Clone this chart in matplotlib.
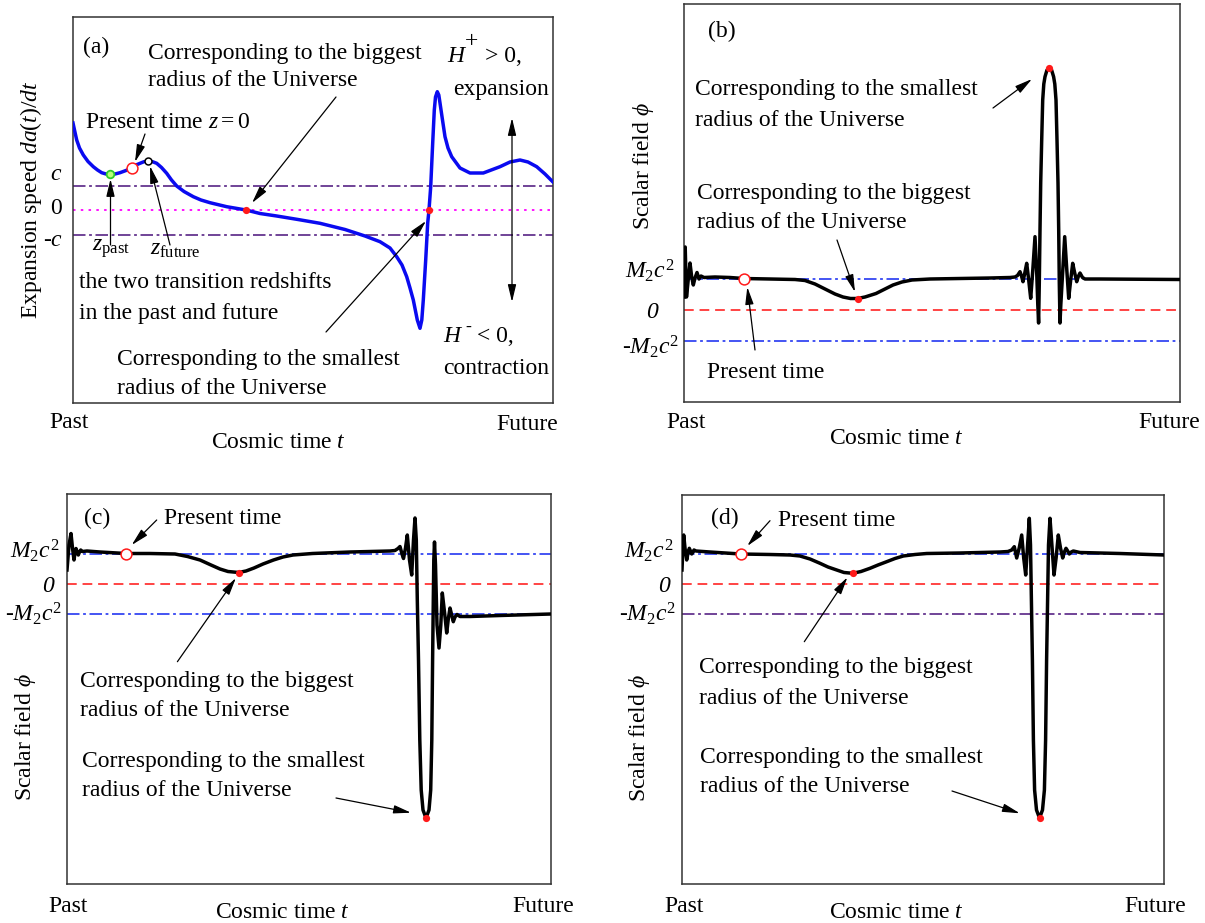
import matplotlib
matplotlib.use("Agg")
import matplotlib.pyplot as plt
from matplotlib.transforms import Affine2D

plt.rcParams['font.family'] = ['Liberation Serif', 'DejaVu Serif']
plt.rcParams['mathtext.fontset'] = 'custom'
plt.rcParams['mathtext.rm'] = 'Liberation Serif'
plt.rcParams['mathtext.it'] = 'Liberation Serif:italic'
plt.rcParams['mathtext.bf'] = 'Liberation Serif:bold'
plt.rcParams['lines.scale_dashes'] = False

# Panel (a): expansion speed da/dt versus cosmic time (c level ~ 24.5 units)
A_T = [0, 1.5, 3.7, 6.5, 10.3, 15, 20.3, 24.5, 28.7, 33, 37, 42, 47, 53, 58.7, 63, 67, 71,
       75.3, 79.5, 83.7, 88.5, 93.7, 98.5, 103.7, 111, 120.3, 128, 137, 153.7, 173, 187,
       203.7, 225, 247, 272, 292, 307, 317, 323.7, 329, 333.7, 337, 340.3, 344.3, 347,
       348.8, 350.3, 352.7, 354.7, 356, 357.7, 359.7, 361.3, 362.5, 364.3, 365.8, 367,
       369.5, 372, 375, 378.7, 387, 397, 410.3, 427, 437, 447, 455, 463.7, 472, 479.7]
A_V = [87, 80, 70, 62, 55, 48.5, 43.3, 40, 37.3, 36, 35.7, 36, 37.3, 39.5, 42.3, 45, 46.7,
       48.3, 49, 48.3, 46.7, 42.5, 36.7, 30, 24, 18.5, 13.3, 10, 7.3, 3.3, 0, -3.5, -6,
       -9.5, -13.3, -19.5, -26, -31.7, -38, -46.7, -55, -66.7, -78, -90, -110, -118.3,
       -110, -90, -50, -13, 0, 23.3, 67, 100, 113, 118.3, 115, 107, 90, 73.3, 62, 53.3,
       42, 37, 37, 43.3, 48, 50, 48, 43.3, 36, 28.3]
A_C = 24.5
A_ZPAST = (37, 35.7)
A_PRESENT = (58.7, 42.3)
A_ZFUTURE = (75.3, 49)
A_ROOTS_T = [173, 356]
A_ROOTS_V = [0, 0]

# Panel (b): scalar field, main peak upward (M2c^2 level ~ 31 units)
B_T = [0, 1.2, 2.5, 4.2, 6, 7.7, 9.3, 11, 13, 15, 17, 20, 31, 46, 59.5, 86, 111, 121, 131,
       142, 151, 159, 166.5, 173.5, 181, 192, 201, 209, 218, 228, 246, 276, 306, 326, 331,
       333.5, 336, 337.5, 339, 341, 342.7, 344.7, 346.7, 348.8, 351, 352.8, 353.8, 354.6,
       355.3, 356, 356.7, 357.7, 358.7, 359.8, 361, 363, 365.3, 367.6, 369.6, 370.8, 372,
       373, 374, 374.7, 375.3, 376, 376.8, 378.5, 380.7, 382.8, 384.7, 386.7, 388.7,
       390.5, 392.7, 394.5, 396, 398.5, 401, 416, 496]
B_V = [13, 63, 13, 30, 47, 33, 25, 32, 37.5, 31, 34, 32.5, 33, 32.5, 31.5, 31, 30.5, 29.5,
       26, 20.5, 16, 13, 11.5, 11.5, 13, 16.5, 21, 25, 28, 30, 31, 31.5, 32, 32.5, 33,
       34.5, 38.3, 34, 28.3, 38, 46.7, 30, 11.7, 40, 73.3, 35, 5, -13, 27, 80, 127, 170,
       210, 226, 233.3, 240, 241.7, 240, 233.3, 226, 210, 170, 127, 80, 27, -13, 5, 35,
       73.3, 40, 11.7, 30, 46.7, 38, 28.3, 34, 37, 32.5, 31, 31, 30.5]
B_M = 31
B_PRESENT = (59.5, 31.5)
B_MARK_T = [173.5, 365.3]
B_MARK_V = [11.5, 241.7]

# Panel (c): scalar field, deep minimum then settles at -M2c^2 (M ~ 30 units)
C_T = [0, 2, 4, 5.5, 7, 8, 9, 10.2, 11.3, 12.5, 13.7, 15.5, 20, 33, 59, 83, 108, 120.5,
       133, 144, 153, 161, 171.5, 179, 187, 196, 206.5, 216, 226, 245.5, 283, 323, 328,
       331, 333, 335, 336.5, 338.5, 340.3, 342.5, 344.7, 346.5, 348, 349.3, 350.3, 351.5,
       352.8, 354.2, 356, 359, 362, 363.7, 364.8, 365.6, 366.3, 366.8, 367.5, 368.5, 370,
       372, 373.8, 375.3, 377.5, 379.7, 381.3, 383, 384.7, 386.3, 388, 390, 393, 403,
       433, 484]
C_V = [14, 39, 50.5, 36, 24, 31, 35.5, 32, 29, 32, 34, 32.5, 33, 32, 30.5, 30.5, 30, 27.5,
       24, 19, 15, 12.5, 11.5, 13, 16, 20, 24, 27, 29, 30.5, 32, 33, 33.5, 35.5, 37.5, 30,
       25.5, 36, 49, 24, 9, 44, 66, 44, -16, -76, -156, -206, -226, -234, -226, -206,
       -156, -76, -16, 24, 42, 19, -41, -64, -41, -9, -28, -49, -35, -24, -31, -37.7,
       -33, -30.5, -32.5, -32.5, -31.5, -30]
C_M = 30
C_PRESENT = (59, 30.5)
C_MARK_T = [171.5, 359]
C_MARK_V = [11.5, -234]

# Panel (d): scalar field, deep minimum then back to +M2c^2 (M ~ 30 units)
D_T = [0, 0.8, 1.7, 3, 4.7, 6, 7.3, 8.5, 9.7, 11, 12, 14, 28, 58.7, 88, 108, 118, 128,
       138, 146, 154.7, 162, 170.7, 179, 188, 196, 204.7, 213, 221.3, 233, 244.7, 278,
       318, 326, 329.7, 332.3, 334.7, 337.2, 339.7, 341.7, 343.7, 345.6, 347.3, 348.5,
       349.4, 350.4, 351.4, 352.6, 354.5, 357.5, 360.5, 362.4, 363.6, 364.6, 365.6, 366.5,
       368, 369.9, 372, 374.1, 376.3, 378.5, 380.7, 382.4, 384, 385.7, 387.3, 389.3,
       391.3, 398, 438, 482]
D_V = [14, 34, 49, 36, 24, 31, 35.7, 33, 30, 32, 34, 33, 32, 30, 29.5, 29, 28, 25, 20.7,
       17, 14, 11.5, 10.7, 12.5, 15.7, 19, 22.3, 25.5, 28, 29.5, 30.5, 31, 32, 32.5, 34,
       37.3, 26, 36, 49, 26, 9, 39, 65.7, 39, -16, -76, -156, -206, -226, -234, -226,
       -206, -156, -76, -16, 39, 65.7, 39, 9, 26, 49, 36, 26, 32, 35.7, 33, 30, 32, 33,
       31.5, 30.5, 29]
D_M = 30
D_PRESENT = (58.7, 30)
D_MARK_T = [170.7, 357.5]
D_MARK_V = [10.7, -234]

# ---------------- figure ----------------
W, H = 1205, 923
fig = plt.figure(figsize=(W / 100, H / 100), dpi=100)
PX = Affine2D().scale(1 / W, -1 / H).translate(0, 1) + fig.transFigure

RED = '#ff1a1a'
BLUE = '#1a2ef0'
PURPLE = '#501a80'
MAG = '#ff00ff'
DASHDOT = [9, 2.6, 2, 2.6]
DASHED = [7, 4.2]
DOTTED = [1.8, 3.8]
FS = 17


def panel(box, xlim, ylim):
    x0, y0, x1, y1 = box
    ax = fig.add_axes([x0 / W, 1 - y1 / H, (x1 - x0) / W, (y1 - y0) / H])
    ax.set_xlim(*xlim)
    ax.set_ylim(*ylim)
    ax.set_xticks([])
    ax.set_yticks([])
    for s in ax.spines.values():
        s.set_linewidth(1.1)
        s.set_color('#333333')
    return ax


def txt(x, y, s, ha='left', **kw):
    fig.text(x, y, s, transform=PX, fontsize=kw.pop('fontsize', FS), ha=ha,
             va=kw.pop('va', 'center'), **kw)


def arrow(x0, y0, x1, y1, style='-|>'):
    fig.add_artist(matplotlib.patches.FancyArrowPatch(
        (x0, y0), (x1, y1), transform=PX,
        arrowstyle=style + ',head_length=0.75,head_width=0.18',
        mutation_scale=14, lw=0.9, color='k', shrinkA=0, shrinkB=0))


def hline(ax, y, color, dashes, lw=1.15):
    ax.axhline(y, color=color, lw=lw, dashes=dashes, zorder=2)


def open_circle(ax, pt, ms=7.8, ec=RED):
    ax.plot([pt[0]], [pt[1]], 'o', ms=ms, mfc='white', mec=ec, mew=1.1, zorder=5)


def dots(ax, ts, vs, ms=5.2):
    ax.plot(ts, vs, 'o', ms=ms, color=RED, mew=0, zorder=5)

# ----- (a) -----
axa = panel((73, 16.7, 553, 403), (0, 480), (-193, 193.3))
hline(axa, A_C, PURPLE, DASHDOT)
hline(axa, -A_C, PURPLE, DASHDOT)
hline(axa, 0, MAG, DOTTED, lw=1.3)
axa.plot(A_T, A_V, color='#0a0af0', lw=2.5, zorder=3, solid_joinstyle='round')
axa.plot([A_ZPAST[0]], [A_ZPAST[1]], 'o', ms=5.5, mfc='#b8ff7a', mec='#2ecc2e', mew=1.3, zorder=5)
open_circle(axa, A_PRESENT)
open_circle(axa, A_ZFUTURE, ms=5, ec='k')
dots(axa, A_ROOTS_T, A_ROOTS_V)

txt(83, 47, "(a)")
txt(148, 53, "Corresponding to the biggest")
txt(148, 81, "radius of the Universe")
txt(447, 57, r"$H$")
txt(465, 42, "+")
txt(485, 57, "> 0,")
txt(453, 89, "expansion")
txt(85, 123, r"Present time $z=0$")
txt(92, 249, r"$z_{\rm past}$")
txt(150, 249, r"$z_{\rm future}$")
txt(79, 283, "the two transition redshifts")
txt(79, 314, "in the past and future")
txt(117, 359, "Corresponding to the smallest")
txt(117, 388, "radius of the Universe")
txt(443, 337, r"$H$")
txt(465, 327, "-", fontsize=13)
txt(477, 337, "< 0,")
txt(443, 368, "contraction")
txt(62, 175, r"$c$", ha='right')
txt(62, 209, "0", ha='right')
txt(63, 241, r"-$c$", ha='right')
txt(31, 200, r"Expansion speed $da(t)/dt$", ha='center', rotation=90)
txt(69, 422, "Past", ha='center')
txt(527, 425, "Future", ha='center')
txt(279, 443, r"Cosmic time $t$", ha='center')
arrow(336, 97, 252, 203)
arrow(145, 134, 135, 162)
arrow(110.5, 245, 110.5, 179)
arrow(170, 245, 150, 166)
arrow(326, 332, 426, 221)
arrow(512, 118, 512, 302, style='<|-|>')

# ----- (b) -----
axb = panel((684, 4, 1180, 402), (0, 496), (-92, 306))
hline(axb, B_M, BLUE, DASHDOT)
hline(axb, -B_M, BLUE, DASHDOT)
hline(axb, 0, RED, DASHED)
axb.plot(B_T, B_V, color='k', lw=2.5, zorder=3, solid_joinstyle='round')
open_circle(axb, B_PRESENT)
dots(axb, B_MARK_T, B_MARK_V)

txt(708, 31, "(b)")
txt(695, 89, "Corresponding to the smallest")
txt(695, 120, "radius of the Universe")
txt(697, 193, "Corresponding to the biggest")
txt(697, 222, "radius of the Universe")
txt(707, 372, "Present time")
txt(675, 271, r"$M_2c^2$", ha='right')
txt(658, 312, "0", ha='right', style='italic')
txt(679, 347, r"-$M_2c^2$", ha='right')
txt(643, 166, r"Scalar field $\phi$", ha='center', rotation=90)
txt(686, 422, "Past", ha='center')
txt(1169, 422, "Future", ha='center')
txt(897, 439, r"Cosmic time $t$", ha='center')
arrow(993, 108, 1032, 79)
arrow(837, 240, 855, 292)
arrow(755, 350, 747.3, 287)

# ----- (c) -----
axc = panel((67, 494, 551, 884), (0, 484), (-300, 90))
hline(axc, C_M, BLUE, DASHDOT)
hline(axc, -C_M, BLUE, DASHDOT)
hline(axc, 0, RED, DASHED)
axc.plot(C_T, C_V, color='k', lw=2.5, zorder=3, solid_joinstyle='round')
open_circle(axc, C_PRESENT)
dots(axc, C_MARK_T, C_MARK_V)

txt(84, 518, "(c)")
txt(164, 519, "Present time")
txt(80, 681, "Corresponding to the biggest")
txt(80, 710, "radius of the Universe")
txt(82, 761, "Corresponding to the smallest")
txt(82, 791, "radius of the Universe")
txt(60, 551, r"$M_2c^2$", ha='right')
txt(54, 587, "0", ha='right', style='italic')
txt(62, 614, r"-$M_2c^2$", ha='right')
txt(25, 737, r"Scalar field $\phi$", ha='center', rotation=90)
txt(68, 906, "Past", ha='center')
txt(543, 906, "Future", ha='center')
txt(283, 912, r"Cosmic time $t$", ha='center')
arrow(156.7, 520, 131.7, 545)
arrow(177.4, 661.7, 235.9, 578)
arrow(336, 798, 411, 812.7)

# ----- (d) -----
axd = panel((682, 495, 1164, 884), (0, 482), (-300, 89))
hline(axd, D_M, BLUE, DASHDOT)
hline(axd, -D_M, PURPLE, DASHDOT)
hline(axd, 0, RED, DASHED)
axd.plot(D_T, D_V, color='k', lw=2.5, zorder=3, solid_joinstyle='round')
open_circle(axd, D_PRESENT)
dots(axd, D_MARK_T, D_MARK_V)

txt(711, 518, "(d)")
txt(778, 520, "Present time")
txt(699, 668, "Corresponding to the biggest")
txt(699, 698, "radius of the Universe")
txt(700, 757, "Corresponding to the smallest")
txt(700, 787, "radius of the Universe")
txt(674, 551, r"$M_2c^2$", ha='right')
txt(670, 587, "0", ha='right', style='italic')
txt(676, 614, r"-$M_2c^2$", ha='right')
txt(640, 738, r"Scalar field $\phi$", ha='center', rotation=90)
txt(684, 906, "Past", ha='center')
txt(1155, 906, "Future", ha='center')
txt(897, 912, r"Cosmic time $t$", ha='center')
arrow(770, 520.7, 747.3, 546)
arrow(804.3, 641.7, 847.4, 577.3)
arrow(952, 791, 1019.8, 813.3)

fig.savefig("out.png", dpi=100)
